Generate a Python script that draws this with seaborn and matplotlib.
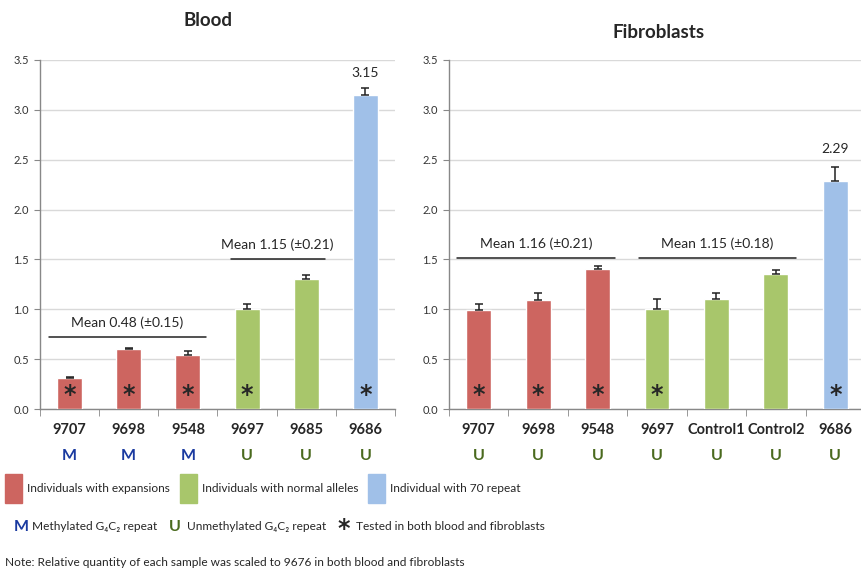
import matplotlib
matplotlib.use('Agg')
import matplotlib.pyplot as plt
import seaborn as sns
import pandas as pd
from matplotlib.patches import Rectangle
from matplotlib.transforms import blended_transform_factory

# data
blood_samples = ['9707', '9698', '9548', '9697', '9685', '9686']
blood_values = [0.31, 0.60, 0.54, 1.00, 1.30, 3.15]
blood_err = [0.01, 0.01, 0.04, 0.05, 0.04, 0.07]
blood_groups = ['exp', 'exp', 'exp', 'normal', 'normal', 'r70']
blood_meth = ['M', 'M', 'M', 'U', 'U', 'U']
blood_tested = [True, True, True, True, False, True]
blood_means = ['Mean 0.48 (±0.15)', 'Mean 1.15 (±0.21)']
blood_mean_spans = [(-0.34, 2.3), (2.72, 4.31)]
blood_mean_levels = [0.72, 1.50]

fibro_samples = ['9707', '9698', '9548', '9697', 'Control1', 'Control2', '9686']
fibro_values = [0.99, 1.09, 1.40, 1.00, 1.10, 1.35, 2.29]
fibro_err = [0.06, 0.07, 0.03, 0.10, 0.06, 0.04, 0.14]
fibro_groups = ['exp', 'exp', 'exp', 'normal', 'normal', 'normal', 'r70']
fibro_meth = ['U', 'U', 'U', 'U', 'U', 'U', 'U']
fibro_tested = [True, True, True, True, False, False, True]
fibro_means = ['Mean 1.16 (±0.21)', 'Mean 1.15 (±0.18)']
fibro_mean_spans = [(-0.36, 2.29), (2.69, 5.34)]
fibro_mean_levels = [1.51, 1.51]

palette = {'exp': '#CD6560', 'normal': '#A8C66B', 'r70': '#A0C0E8'}
meth_colors = {'M': '#1A3AA0', 'U': '#4A6A1E'}
group_labels = {'exp': 'Individuals with expansions',
                'normal': 'Individuals with normal alleles',
                'r70': 'Individual with 70 repeat'}

sns.set_style('white')
plt.rcParams['font.family'] = ['Lato', 'DejaVu Sans']

W, H = 862, 576
LEG_FS = 8.6
fig = plt.figure(figsize=(W / 100, H / 100), dpi=100)


def px(x, y):
    return x / W, 1 - y / H


def draw_panel(ax, samples, values, err, groups, meth, tested,
               means, spans, levels, top_label):
    df = pd.DataFrame({'sample': samples, 'value': values, 'group': groups})
    sns.barplot(data=df, x='sample', y='value', hue='group', palette=palette,
                dodge=False, width=0.42, saturation=1, legend=False, ax=ax,
                zorder=3)
    n = len(samples)
    ax.errorbar(range(n), values, yerr=[[0] * n, err], fmt='none',
                ecolor='#222222', elinewidth=1.1, capsize=3, capthick=1.1, zorder=4)
    for i, t in enumerate(tested):
        if t:
            ax.text(i, 0.14, '*', ha='center', va='center', fontsize=17,
                    fontweight='bold', family='DejaVu Sans', zorder=5)
    # value label for the tallest bar
    ax.text(n - 1, values[-1] + top_label, f'{values[-1]:.2f}', ha='center',
            va='center', fontsize=10)
    for txt, (x0, x1), lv in zip(means, spans, levels):
        ax.plot([x0, x1], [lv, lv], color='#222222', lw=1.1, zorder=4,
                clip_on=False)
        ax.text((x0 + x1) / 2, lv + 0.15, txt, ha='center', va='center',
                fontsize=10)
    ax.set_xlim(-0.5, n - 0.5)
    ax.set_ylim(0, 3.5)
    ax.set_yticks([0, 0.5, 1.0, 1.5, 2.0, 2.5, 3.0, 3.5])
    ax.set_yticklabels([f'{v:.1f}' for v in ax.get_yticks()], fontsize=8,
                       color='#333333')
    ax.set_xticks(range(n))
    ax.set_xticklabels(samples, fontsize=10.5, fontweight='bold')
    ax.set_xticks([i - 0.5 for i in range(n + 1)], minor=True)
    ax.tick_params(axis='x', which='major', length=0, pad=10)
    ax.tick_params(axis='x', which='minor', length=5, color='#888888',
                   direction='out', bottom=True)
    ax.tick_params(axis='y', length=4, color='#888888', direction='out',
                   left=True, pad=4)
    ax.yaxis.grid(True, color='#D9D9D9', lw=1)
    ax.set_axisbelow(True)
    for s in ['top', 'right']:
        ax.spines[s].set_visible(False)
    for s in ['left', 'bottom']:
        ax.spines[s].set_color('#888888')
        ax.spines[s].set_linewidth(1)
    ax.set_xlabel('')
    ax.set_ylabel('')
    tr = blended_transform_factory(ax.transData, ax.transAxes)
    for i, m in enumerate(meth):
        ax.text(i, -0.135, m, transform=tr, ha='center', va='center',
                fontsize=11.5, fontweight='bold', color=meth_colors[m])


ax1 = fig.add_axes([40 / W, 1 - 409 / H, 355 / W, 349 / H])
ax2 = fig.add_axes([449 / W, 1 - 409 / H, 416 / W, 349 / H])
draw_panel(ax1, blood_samples, blood_values, blood_err, blood_groups,
           blood_meth, blood_tested, blood_means, blood_mean_spans,
           blood_mean_levels, 0.22)
draw_panel(ax2, fibro_samples, fibro_values, fibro_err, fibro_groups,
           fibro_meth, fibro_tested, fibro_means, fibro_mean_spans,
           fibro_mean_levels, 0.32)

fig.text(*px(208, 20), 'Blood', ha='center', va='center', fontsize=13.5,
         fontweight='bold')
fig.text(*px(659, 32), 'Fibroblasts', ha='center', va='center',
         fontsize=13.5, fontweight='bold')

renderer = fig.canvas.get_renderer()


def text_right(t):
    return t.get_window_extent(renderer).x1


# legend row 1: colour patches
gx = 5
for ref_x, key in zip([5, 152, 310], ['exp', 'normal', 'r70']):
    gx = max(ref_x, gx)
    x0, y0 = px(gx, 503)
    fig.add_artist(Rectangle((x0, y0), 17 / W, 29 / H, color=palette[key],
                             transform=fig.transFigure))
    t = fig.text(*px(gx + 22, 489), group_labels[key], ha='left',
                 va='center', fontsize=LEG_FS)
    gx = text_right(t) + 10

# legend row 2: methylation keys and asterisk
row2 = [('M', 'Methylated G₄C₂ repeat', 14, meth_colors['M']),
        ('U', 'Unmethylated G₄C₂ repeat', 145, meth_colors['U']),
        ('*', 'Tested in both blood and fibroblasts', 292, 'black')]
gx = 0
for sym, label, ref_x, col in row2:
    gx = max(ref_x, gx)
    if sym == '*':
        fig.text(*px(gx + 5, 529), sym, ha='center', va='center',
                 fontsize=17, fontweight='bold', family='DejaVu Sans')
    else:
        fig.text(*px(gx, 527), sym, ha='left', va='center', fontsize=11.5,
                 fontweight='bold', color=col)
    t = fig.text(*px(gx + 18, 527), label, ha='left', va='center',
                 fontsize=LEG_FS)
    gx = text_right(t) + 12

fig.text(*px(5, 562), 'Note: Relative quantity of each sample was scaled '
         'to 9676 in both blood and fibroblasts', ha='left', va='center',
         fontsize=LEG_FS)

fig.savefig('out.png', dpi=100)
